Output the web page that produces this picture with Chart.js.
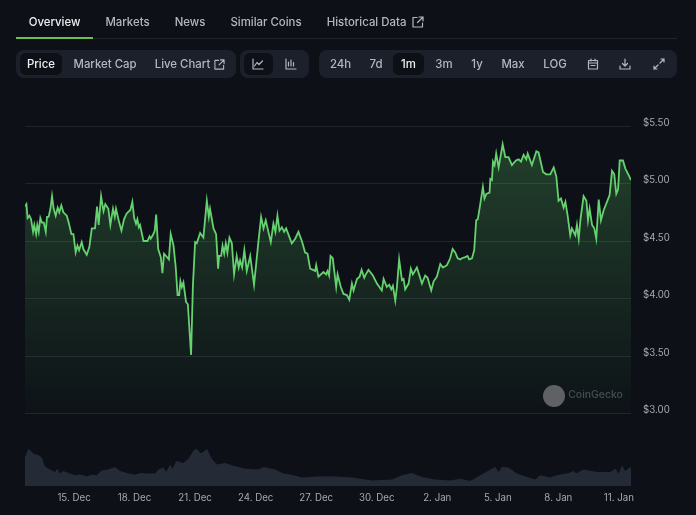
<!DOCTYPE html>
<html><head><meta charset="utf-8">
<style>
html,body{margin:0;padding:0;background:#0d1117;width:696px;height:515px;overflow:hidden;font-family:Inter,"Noto Sans",sans-serif}
#wrap{position:relative;width:696px;height:515px}
canvas{position:absolute;left:0;top:0}
.t{position:absolute;transform:translate(-50%,-50%);white-space:nowrap;font-size:11.4px;font-weight:500;color:#b3b8c0;line-height:1;margin-top:.5px}
.box{position:absolute}
svg{position:absolute;fill:none;stroke:#b3b8c0;stroke-width:1.2;stroke-linecap:round;stroke-linejoin:round}
</style></head><body><div id="wrap">
<canvas id="c" width="696" height="515"></canvas>
<div class="box" style="left:16px;top:38px;width:661px;height:1px;background:#20242c"></div>
<div class="box" style="left:16px;top:37px;width:77px;height:2px;background:#6cbf4b"></div>
<div class="box" style="left:16px;top:50px;width:220px;height:28px;border-radius:8px;background:#1b202a"></div>
<div class="box" style="left:240px;top:50px;width:69px;height:28px;border-radius:8px;background:#1b202a"></div>
<div class="box" style="left:319px;top:50px;width:358px;height:28px;border-radius:8px;background:#1b202a"></div>
<div class="box" style="left:20px;top:53px;width:42px;height:22px;border-radius:6px;background:#0d1117"></div>
<div class="box" style="left:244px;top:53px;width:29px;height:22px;border-radius:6px;background:#0d1117"></div>
<div class="box" style="left:393px;top:53px;width:31px;height:22px;border-radius:6px;background:#0d1117"></div>
<span class="t" style="left:54.5px;top:22px;color:#eef0f2">Overview</span>
<span class="t" style="left:127.5px;top:22px">Markets</span>
<span class="t" style="left:190px;top:22px">News</span>
<span class="t" style="left:266px;top:22px">Similar Coins</span>
<span class="t" style="left:366.5px;top:22px">Historical Data</span>
<span class="t" style="left:41px;top:64px;color:#eef0f2">Price</span>
<span class="t" style="left:105px;top:64px">Market Cap</span>
<span class="t" style="left:182.5px;top:64px">Live Chart</span>
<span class="t" style="left:340.5px;top:64px">24h</span>
<span class="t" style="left:376px;top:64px">7d</span>
<span class="t" style="left:408.5px;top:64px;color:#eef0f2">1m</span>
<span class="t" style="left:444px;top:64px">3m</span>
<span class="t" style="left:477px;top:64px">1y</span>
<span class="t" style="left:513px;top:64px">Max</span>
<span class="t" style="left:555px;top:64px">LOG</span>
<svg style="left:412px;top:16px" width="12" height="12" viewBox="0 0 12 12"><path d="M5 1.500H1v9.500h9.500V7M7 1h4v4M11 1 5.500 6.500"/></svg>
<svg style="left:214px;top:59px" width="11" height="11" viewBox="0 0 12 12"><path d="M5 1.500H1v9.500h9.500V7M7 1h4v4M11 1 5.500 6.500"/></svg>
<svg style="left:252px;top:58px" width="12" height="12" viewBox="0 0 12 12"><path d="M1 1v10h10M2.500 8 5 4.500 7 6.500 10.500 3"/></svg>
<svg style="left:285px;top:58px" width="12" height="12" viewBox="0 0 12 12"><path d="M1 1v10h10M3.500 8V4M6 8V2M8.500 8V4.500"/></svg>
<svg style="left:587px;top:58px" width="12" height="12" viewBox="0 0 12 12"><path d="M1.500 2.500h9v8.500h-9zM4 1v2M8 1v2M1.500 5h9M4 7.500h4"/></svg>
<svg style="left:619px;top:58px" width="12" height="12" viewBox="0 0 12 12"><path d="M6 1v6.500M3.500 5.500 6 8l2.500-2.500M1 8v3h10V8"/></svg>
<svg style="left:653px;top:58px" width="12" height="12" viewBox="0 0 12 12"><path d="M7 5l4-4M8 1h3v3M5 7l-4 4M1 8v3h3"/></svg>
<div class="box" style="left:543px;top:384.500px;width:22px;height:22px;border-radius:50%;background:#5f6164"></div>
<span class="t" style="left:595.500px;top:394.500px;font-size:10.400px;color:#484c51">CoinGecko</span>
</div>
<script src="https://cdn.jsdelivr.net/npm/chart.js@4/dist/chart.umd.js"></script>
<script>
const tickDays=[0,3,6,9,12,15,18,21,24,27];
const tickLabels=["15. Dec","18. Dec","21. Dec","24. Dec","27. Dec","30. Dec","2. Jan","5. Jan","8. Jan","11. Jan"];
const priceTicks=[3,3.5,4,4.5,5,5.5];
const priceDays=[-2.43,-2.36,-2.30,-2.21,-2.13,-2.03,-1.97,-1.88,-1.82,-1.75,-1.67,-1.59,-1.50,-1.40,-1.34,-1.26,-1.17,-1.09,-1.01,-0.91,-0.81,-0.73,-0.63,-0.53,-0.36,-0.25,-0.13,-0.03,0.08,0.17,0.25,0.38,0.46,0.63,0.76,0.88,1.04,1.14,1.22,1.34,1.46,1.55,1.70,1.80,1.93,2.02,2.08,2.21,2.35,2.48,2.61,2.79,2.89,2.98,3.07,3.14,3.21,3.27,3.44,3.64,3.74,3.80,3.90,4.00,4.07,4.17,4.30,4.38,4.46,4.56,4.70,4.79,4.93,5.04,5.13,5.21,5.27,5.34,5.42,5.55,5.64,5.80,5.89,6.00,6.08,6.25,6.41,6.58,6.68,6.74,6.91,7.04,7.14,7.19,7.29,7.36,7.44,7.52,7.60,7.70,7.82,7.93,8.06,8.16,8.23,8.33,8.44,8.56,8.73,8.92,9.02,9.14,9.27,9.39,9.50,9.75,9.88,9.98,10.08,10.18,10.30,10.41,10.51,10.79,10.96,11.12,11.29,11.45,11.57,11.70,11.95,12.00,12.11,12.36,12.49,12.56,12.64,12.71,12.82,12.99,13.06,13.22,13.35,13.52,13.64,13.77,13.85,14.02,14.15,14.25,14.38,14.46,14.59,14.81,15.01,15.25,15.34,15.50,15.62,15.72,15.80,15.92,16.00,16.11,16.25,16.33,16.41,16.58,16.69,16.79,16.99,17.24,17.40,17.52,17.70,17.82,17.98,18.15,18.28,18.48,18.64,18.76,18.89,19.01,19.14,19.22,19.39,19.50,19.58,19.72,19.83,19.93,20.01,20.13,20.26,20.34,20.43,20.59,20.63,20.71,20.76,20.84,20.92,21.04,21.24,21.37,21.53,21.70,21.90,22.03,22.15,22.28,22.41,22.48,22.69,22.91,23.02,23.24,23.40,23.60,23.77,23.90,24.01,24.13,24.26,24.35,24.46,24.59,24.67,24.84,24.92,25.01,25.09,25.25,25.39,25.47,25.55,25.67,25.78,25.88,26.00,26.11,26.25,26.41,26.54,26.66,26.77,26.87,26.96,27.04,27.20,27.32,27.49,27.60];
const prices=[4.80,4.82,4.70,4.72,4.69,4.58,4.64,4.56,4.64,4.58,4.70,4.66,4.66,4.58,4.71,4.71,4.78,4.89,4.78,4.72,4.79,4.75,4.81,4.75,4.72,4.65,4.56,4.56,4.40,4.46,4.42,4.49,4.43,4.38,4.45,4.61,4.61,4.80,4.64,4.89,4.76,4.82,4.78,4.64,4.78,4.71,4.78,4.68,4.59,4.69,4.74,4.77,4.84,4.70,4.65,4.69,4.62,4.64,4.50,4.50,4.54,4.52,4.55,4.59,4.73,4.43,4.36,4.22,4.39,4.37,4.34,4.56,4.46,4.27,4.03,4.03,4.15,4.10,4.14,3.97,3.95,3.51,4.11,4.49,4.48,4.57,4.53,4.85,4.71,4.78,4.61,4.56,4.26,4.37,4.37,4.46,4.39,4.48,4.40,4.53,4.48,4.21,4.37,4.27,4.33,4.27,4.42,4.24,4.37,4.12,4.29,4.50,4.71,4.61,4.68,4.49,4.65,4.58,4.72,4.59,4.62,4.58,4.61,4.48,4.52,4.58,4.50,4.40,4.39,4.26,4.24,4.29,4.19,4.23,4.21,4.24,4.20,4.37,4.35,4.10,4.21,4.10,4.04,4.03,3.99,4.13,4.07,4.17,4.19,4.25,4.18,4.21,4.25,4.20,4.13,4.07,4.17,4.10,4.12,4.08,4.11,3.98,4.10,4.34,4.16,4.17,4.08,4.13,4.26,4.21,4.27,4.13,4.20,4.18,4.07,4.15,4.19,4.30,4.27,4.29,4.35,4.43,4.40,4.35,4.34,4.35,4.36,4.37,4.34,4.35,4.42,4.68,4.69,4.82,4.97,4.87,4.91,4.92,5.04,5.03,5.19,5.16,5.26,5.14,5.34,5.23,5.23,5.16,5.20,5.21,5.19,5.25,5.21,5.26,5.16,5.28,5.27,5.10,5.08,5.08,5.14,5.06,4.85,4.87,4.79,4.84,4.72,4.55,4.61,4.55,4.64,4.52,4.68,4.89,4.85,4.68,4.78,4.64,4.61,4.52,4.86,4.68,4.77,4.84,4.90,5.11,5.08,4.91,4.95,5.20,5.20,5.13,5.07,5.03];
const volumeDays=[-2.43,-2.26,-2.02,-1.77,-1.60,-1.44,-1.19,-0.94,-0.83,-0.69,-0.53,-0.20,0.05,0.30,0.63,0.88,1.12,1.37,1.70,2.03,2.28,2.61,3.03,3.27,3.60,4.02,4.18,4.43,4.56,4.76,4.89,5.06,5.42,5.67,5.92,6.08,6.25,6.41,6.58,6.83,7.07,7.49,7.82,8.48,9.14,9.39,9.97,10.38,10.79,11.29,12.11,12.94,13.77,14.76,15.75,16.25,16.74,17.24,17.90,18.64,19.14,19.63,20.13,20.71,20.87,21.04,21.20,21.53,21.95,22.44,22.86,23.10,23.60,23.93,24.51,24.76,24.89,25.25,25.91,26.58,26.82,26.99,27.15,27.32,27.53,27.60];
const volumes=[7.2,9.3,8.1,7.7,7.1,4.9,4.1,3.5,4.3,3.1,3.75,3.1,2.7,2.9,2.4,2.8,2.7,3.9,4.1,4.75,3.75,3.25,2.8,3.25,3.1,3.1,4.1,4.6,3.5,5.4,4.3,6.25,5.75,6.8,8.9,9.3,8.25,8.5,9.3,6.8,5.4,5.75,5.2,4.3,4.1,4.75,4.1,3.1,2.8,2.1,2.4,2.4,2.1,1.4,1.6,2.7,3.25,2.25,1.6,1.4,1.8,1.25,2.7,4.3,4.75,3.5,4.75,4.6,3.1,2.25,1.6,2.7,2.1,2.7,3.25,3.75,3.1,4.1,3.5,3.5,4.3,3.1,5.1,3.75,4.6,4.6];

function fillGrad(ctx){
  const c=ctx.chart, a=c.chartArea, s=c.scales.y;
  if(!a||!s||!isFinite(s.getPixelForValue(5))) return 'rgba(92,190,100,0.15)';
  const g=c.ctx.createLinearGradient(0,s.getPixelForValue(5.34),0,s.getPixelForValue(3));
  g.addColorStop(0,'rgba(92,190,100,0.27)');
  g.addColorStop(1,'rgba(92,190,100,0.01)');
  return g;
}
new Chart(document.getElementById('c'),{
  type:'line',
  data:{datasets:[
    {data:priceDays.map((d,i)=>({x:d,y:prices[i]})),yAxisID:'y',borderColor:'#66d26f',borderWidth:1.8,pointRadius:0,tension:0,fill:{target:{value:3}},backgroundColor:fillGrad},
    {data:volumeDays.map((d,i)=>({x:d,y:volumes[i]})),yAxisID:'v',borderWidth:0,pointRadius:0,tension:0,fill:'origin',backgroundColor:'#242b36'}
  ]},
  options:{
    responsive:false,animation:false,devicePixelRatio:1,
    layout:{padding:{left:25,top:126,right:0,bottom:0}},
    plugins:{legend:{display:false},tooltip:{enabled:false}},
    scales:{
      x:{type:'linear',min:-2.43,max:27.6,
        afterBuildTicks:s=>{s.ticks=tickDays.map(v=>({value:v}))},
        afterFit:s=>{s.height=29},
        grid:{display:false,drawTicks:false},border:{display:false},
        ticks:{autoSkip:false,maxRotation:0,padding:6,color:'#a4a9b0',font:{family:'Inter',size:9.7},callback:(v,i)=>tickLabels[i]}},
      y:{position:'right',min:2.37,max:5.5,
        afterBuildTicks:s=>{s.ticks=priceTicks.map(v=>({value:v}))},
        afterFit:s=>{s.width=65},
        grid:{color:'#20252d',lineWidth:1,drawTicks:false},border:{display:false},
        ticks:{padding:12,labelOffset:-3,color:'#a4a9b0',font:{family:'Inter',size:9.7},callback:v=>'$'+v.toFixed(2)}},
      v:{display:false,min:0,max:90}
    }
  }
});
</script></body></html>
